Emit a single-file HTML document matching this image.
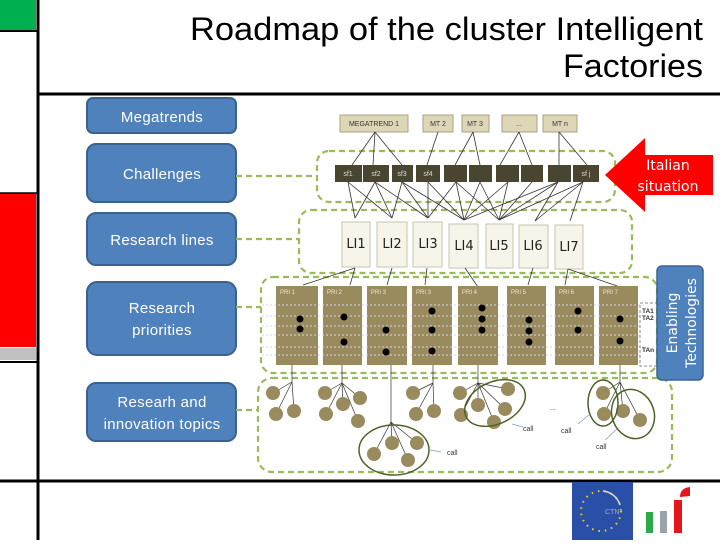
<!DOCTYPE html>
<html><head><meta charset="utf-8"><style>
body{margin:0;width:720px;height:540px;overflow:hidden;background:#fff;font-family:"Liberation Sans",sans-serif}
</style></head><body>
<svg width="720" height="540" xmlns="http://www.w3.org/2000/svg" font-family="Liberation Sans, DejaVu Sans, sans-serif">
<rect x="0" y="0" width="36" height="30" fill="#00b050"/>
<line x1="0" y1="31" x2="37" y2="31" stroke="#000" stroke-width="2"/>
<rect x="0" y="193" width="36" height="154" fill="#ff0000"/>
<line x1="0" y1="193" x2="37" y2="193" stroke="#000" stroke-width="1.5"/>
<rect x="0" y="348" width="36" height="12" fill="#c0c0c0"/>
<line x1="0" y1="362" x2="37" y2="362" stroke="#000" stroke-width="2"/>
<line x1="38" y1="0" x2="38" y2="540" stroke="#000" stroke-width="3"/>
<line x1="38" y1="94" x2="720" y2="94" stroke="#000" stroke-width="3"/>
<line x1="0" y1="481" x2="720" y2="481" stroke="#000" stroke-width="3"/>
<text x="190" y="40" font-size="32" textLength="513" lengthAdjust="spacingAndGlyphs">Roadmap of the cluster Intelligent</text>
<text x="563" y="77" font-size="32" textLength="140" lengthAdjust="spacingAndGlyphs">Factories</text>

<g fill="#4f81bd" stroke="#3a6291" stroke-width="2">
<rect x="87" y="98" width="149" height="35" rx="6"/>
<rect x="87" y="144" width="149" height="58" rx="9"/>
<rect x="87" y="213" width="149" height="52" rx="9"/>
<rect x="87" y="282" width="149" height="73" rx="10"/>
<rect x="87" y="383" width="149" height="58" rx="9"/>
</g>
<g fill="#fff" font-size="15" text-anchor="middle" font-family="Liberation Sans, sans-serif" letter-spacing="0.3">
<text x="162" y="122">Megatrends</text>
<text x="162" y="179">Challenges</text>
<text x="162" y="245">Research lines</text>
<text x="162" y="313">Research</text>
<text x="162" y="335">priorities</text>
<text x="162" y="407">Researh and</text>
<text x="162" y="429">innovation topics</text>
</g>

<g fill="none" stroke="#9bbb59" stroke-width="2.2" stroke-dasharray="6,4">
<rect x="317" y="151" width="298" height="51" rx="12"/>
<rect x="299" y="210" width="333" height="63" rx="12"/>
<rect x="261" y="277" width="396" height="96" rx="12"/>
<rect x="258" y="378" width="414" height="94" rx="14"/>
<line x1="236" y1="176" x2="317" y2="176"/>
<line x1="236" y1="239" x2="299" y2="239"/>
<line x1="236" y1="307" x2="261" y2="307"/>
<line x1="236" y1="410" x2="258" y2="410"/>
</g>

<g fill="#ddd7b8" stroke="#a9a385" stroke-width="1">
<rect x="340" y="115" width="68" height="17"/>
<rect x="423" y="115" width="30" height="17"/>
<rect x="462" y="115" width="27" height="17"/>
<rect x="502" y="115" width="35" height="17"/>
<rect x="543" y="115" width="34" height="17"/>
</g>
<g font-size="7" text-anchor="middle" fill="#333">
<text x="374" y="126">MEGATREND 1</text><text x="438" y="126">MT 2</text><text x="475" y="126">MT 3</text><text x="519" y="126">...</text><text x="560" y="126">MT n</text>
</g>
<g stroke="#333" stroke-width="0.8">
<line x1="375" y1="132" x2="352" y2="165"/><line x1="375" y1="132" x2="373" y2="165"/><line x1="375" y1="132" x2="402" y2="165"/>
<line x1="438" y1="132" x2="427" y2="165"/>
<line x1="473" y1="132" x2="455" y2="165"/><line x1="473" y1="132" x2="480" y2="165"/>
<line x1="519" y1="132" x2="500" y2="165"/><line x1="519" y1="132" x2="532" y2="165"/>
<line x1="559" y1="132" x2="559" y2="165"/><line x1="559" y1="132" x2="587" y2="165"/>
</g>
<g fill="#4a4530">
<rect x="335" y="165" width="27" height="17"/><rect x="363" y="165" width="26" height="17"/><rect x="392" y="165" width="21" height="17"/><rect x="416" y="165" width="24" height="17"/>
<rect x="444" y="165" width="23" height="17"/><rect x="469" y="165" width="23" height="17"/><rect x="496" y="165" width="23" height="17"/><rect x="521" y="165" width="22" height="17"/><rect x="548" y="165" width="23" height="17"/><rect x="573" y="165" width="26" height="17"/>
</g>
<g font-size="7" fill="#ddd" text-anchor="middle">
<text x="348" y="176">sf1</text><text x="376" y="176">sf2</text><text x="402" y="176">sf3</text><text x="428" y="176">sf4</text><text x="586" y="176">sf j</text>
</g>
<g stroke="#333" stroke-width="0.8">
<line x1="348" y1="182" x2="355" y2="218"/><line x1="348" y1="182" x2="392" y2="218"/>
<line x1="375" y1="182" x2="355" y2="218"/><line x1="375" y1="182" x2="392" y2="218"/><line x1="375" y1="182" x2="428" y2="218"/>
<line x1="402" y1="182" x2="392" y2="218"/><line x1="402" y1="182" x2="428" y2="218"/><line x1="402" y1="182" x2="464" y2="220"/>
<line x1="428" y1="182" x2="428" y2="218"/><line x1="428" y1="182" x2="464" y2="220"/>
<line x1="456" y1="182" x2="428" y2="218"/><line x1="456" y1="182" x2="464" y2="220"/><line x1="456" y1="182" x2="499" y2="220"/>
<line x1="480" y1="182" x2="464" y2="220"/><line x1="480" y1="182" x2="499" y2="220"/>
<line x1="508" y1="182" x2="464" y2="220"/><line x1="508" y1="182" x2="499" y2="220"/>
<line x1="532" y1="182" x2="499" y2="220"/>
<line x1="558" y1="182" x2="464" y2="220"/><line x1="558" y1="182" x2="499" y2="220"/><line x1="558" y1="182" x2="535" y2="221"/>
<line x1="583" y1="182" x2="499" y2="220"/><line x1="583" y1="182" x2="535" y2="221"/><line x1="583" y1="182" x2="570" y2="221"/>
</g>
<polygon points="605,175 645,138 645,155 713,155 713,195 645,195 645,212" fill="#ff0000"/>
<g font-size="14" fill="#fff" text-anchor="middle" font-family="DejaVu Sans, sans-serif">
<text x="668" y="170">Italian</text><text x="668" y="191">situation</text>
</g>
<g fill="#f7f5ea" stroke="#c9c5b0" stroke-width="1">
<rect x="342" y="222" width="28" height="45"/><rect x="377" y="222" width="30" height="45"/><rect x="413" y="222" width="29" height="45"/><rect x="449" y="224" width="29" height="44"/><rect x="486" y="224" width="27" height="44"/><rect x="519" y="225" width="29" height="43"/><rect x="555" y="225" width="28" height="44"/>
</g>
<g font-size="13" text-anchor="middle" fill="#222" font-family="DejaVu Sans, sans-serif">
<text x="356" y="248">LI1</text><text x="392" y="248">LI2</text><text x="428" y="248">LI3</text><text x="464" y="250">LI4</text><text x="499" y="250">LI5</text><text x="533" y="250">LI6</text><text x="569" y="251">LI7</text>
</g>
<g stroke="#333" stroke-width="0.8">
<line x1="355" y1="268" x2="303" y2="285"/><line x1="355" y1="268" x2="350" y2="285"/>
<line x1="392" y1="268" x2="387" y2="285"/><line x1="427" y1="268" x2="425" y2="285"/>
<line x1="465" y1="268" x2="478" y2="287"/><line x1="533" y1="268" x2="528" y2="285"/>
<line x1="568" y1="269" x2="565" y2="285"/><line x1="568" y1="269" x2="620" y2="287"/>
</g>
<g fill="#9a8b5f">
<rect x="276" y="286" width="42" height="79"/><rect x="323" y="286" width="39" height="79"/><rect x="367" y="286" width="40" height="79"/><rect x="412" y="286" width="40" height="79"/><rect x="458" y="286" width="40" height="79"/><rect x="507" y="286" width="39" height="79"/><rect x="555" y="286" width="39" height="79"/><rect x="599" y="286" width="39" height="79"/>
</g>
<g stroke="#d8d4e8" stroke-width="1" stroke-dasharray="2,2">
<line x1="262" y1="305" x2="645" y2="305"/><line x1="262" y1="316" x2="645" y2="316"/><line x1="262" y1="326" x2="640" y2="326"/><line x1="262" y1="335" x2="640" y2="335"/><line x1="262" y1="347" x2="645" y2="347"/><line x1="262" y1="355" x2="640" y2="355"/>
</g>
<g font-size="6" fill="#f0ead0">
<text x="280" y="294">PRI 1</text><text x="327" y="294">PRI 2</text><text x="371" y="294">PRI 3</text><text x="416" y="294">PRI 3</text><text x="462" y="294">PRI 4</text><text x="511" y="294">PRI 5</text><text x="559" y="294">PRI 6</text><text x="603" y="294">PRI 7</text>
</g>
<g fill="#000">
<circle cx="300" cy="319" r="3.5"/><circle cx="300" cy="329" r="3.5"/>
<circle cx="344" cy="317" r="3.5"/><circle cx="344" cy="342" r="3.5"/>
<circle cx="386" cy="330" r="3.5"/><circle cx="386" cy="352" r="3.5"/>
<circle cx="432" cy="311" r="3.5"/><circle cx="432" cy="330" r="3.5"/><circle cx="432" cy="351" r="3.5"/>
<circle cx="482" cy="308" r="3.5"/><circle cx="482" cy="319" r="3.5"/><circle cx="482" cy="330" r="3.5"/>
<circle cx="529" cy="320" r="3.5"/><circle cx="529" cy="331" r="3.5"/><circle cx="529" cy="342" r="3.5"/>
<circle cx="578" cy="311" r="3.5"/><circle cx="578" cy="330" r="3.5"/>
<circle cx="620" cy="319" r="3.5"/><circle cx="620" cy="341" r="3.5"/>
</g>
<rect x="640" y="303" width="22" height="63" fill="none" stroke="#888" stroke-dasharray="3,2"/>
<g font-size="6.5" font-weight="bold" fill="#333"><text x="642" y="313">TA1</text><text x="642" y="320">TA2</text><text x="642" y="352">TAn</text></g>
<rect x="657" y="266" width="46" height="114" rx="5" fill="#4f81bd" stroke="#3a6291" stroke-width="1.5"/>
<g font-size="14" fill="#fff" text-anchor="middle" font-family="DejaVu Sans, sans-serif">
<text transform="translate(677,323) rotate(-90)">Enabling</text>
<text transform="translate(696,323) rotate(-90)">Technologies</text>
</g>
<g stroke="#333" stroke-width="0.7">
<line x1="292" y1="365" x2="292" y2="382"/><line x1="292" y1="382" x2="273" y2="393"/><line x1="292" y1="382" x2="276" y2="414"/><line x1="292" y1="382" x2="294" y2="411"/>
<line x1="342" y1="365" x2="342" y2="383"/><line x1="342" y1="383" x2="325" y2="393"/><line x1="342" y1="383" x2="326" y2="414"/><line x1="342" y1="383" x2="343" y2="404"/><line x1="342" y1="383" x2="360" y2="398"/><line x1="342" y1="383" x2="358" y2="421"/>
<line x1="391" y1="365" x2="391" y2="422"/><line x1="391" y1="422" x2="374" y2="454"/><line x1="391" y1="422" x2="392" y2="443"/><line x1="391" y1="422" x2="417" y2="443"/><line x1="391" y1="422" x2="408" y2="460"/>
<line x1="433" y1="365" x2="433" y2="383"/><line x1="433" y1="383" x2="413" y2="393"/><line x1="433" y1="383" x2="416" y2="414"/><line x1="433" y1="383" x2="434" y2="411"/>
<line x1="478" y1="365" x2="478" y2="383"/><line x1="478" y1="383" x2="460" y2="393"/><line x1="478" y1="383" x2="461" y2="415"/><line x1="478" y1="383" x2="478" y2="405"/><line x1="478" y1="383" x2="508" y2="389"/><line x1="478" y1="383" x2="505" y2="409"/><line x1="478" y1="383" x2="494" y2="422"/>
<line x1="620" y1="365" x2="620" y2="382"/><line x1="620" y1="382" x2="603" y2="393"/><line x1="620" y1="382" x2="604" y2="414"/><line x1="620" y1="382" x2="623" y2="411"/><line x1="620" y1="382" x2="640" y2="420"/>
</g>
<g fill="#9a8b5f">
<circle cx="273" cy="393" r="7"/><circle cx="276" cy="414" r="7"/><circle cx="294" cy="411" r="7"/>
<circle cx="325" cy="393" r="7"/><circle cx="326" cy="414" r="7"/><circle cx="343" cy="404" r="7"/><circle cx="360" cy="398" r="7"/><circle cx="358" cy="421" r="7"/>
<circle cx="374" cy="454" r="7"/><circle cx="392" cy="443" r="7"/><circle cx="417" cy="443" r="7"/><circle cx="408" cy="460" r="7"/>
<circle cx="413" cy="393" r="7"/><circle cx="416" cy="414" r="7"/><circle cx="434" cy="411" r="7"/>
<circle cx="460" cy="393" r="7"/><circle cx="461" cy="415" r="7"/><circle cx="478" cy="405" r="7"/><circle cx="508" cy="389" r="7"/><circle cx="505" cy="409" r="7"/><circle cx="494" cy="422" r="7"/>
<circle cx="603" cy="393" r="7"/><circle cx="604" cy="414" r="7"/><circle cx="623" cy="411" r="7"/><circle cx="640" cy="420" r="7"/>
</g>
<g fill="none" stroke="#4f6228" stroke-width="1.5">
<ellipse cx="394" cy="450" rx="35" ry="25"/>
<ellipse cx="495" cy="403" rx="32" ry="21" transform="rotate(-25 495 403)"/>
<ellipse cx="603" cy="403" rx="15" ry="23"/>
<ellipse cx="633" cy="414" rx="21" ry="25" transform="rotate(-20 633 414)"/>
</g>
<g stroke="#7a9cc6" stroke-width="0.8">
<line x1="430" y1="450" x2="441" y2="452"/><line x1="512" y1="424" x2="523" y2="427"/><line x1="578" y1="424" x2="590" y2="414"/><line x1="605" y1="440" x2="617" y2="429"/>
</g>
<g font-size="7" fill="#333">
<text x="447" y="455">call</text><text x="523" y="431">call</text><text x="561" y="433">call</text><text x="596" y="449">call</text><text x="550" y="410">...</text>
</g>
<rect x="572" y="482" width="61" height="58" fill="#2a4fa8"/>
<circle cx="601" cy="511" r="20" fill="none" stroke="#f5d000" stroke-width="2" stroke-dasharray="1.5,5"/>
<path d="M603,491 A20,20 0 0,1 620,505" fill="none" stroke="#ddd" stroke-width="1.5"/>
<text x="605" y="514" font-size="7" fill="#aab">CTN</text>
<rect x="646" y="512" width="7" height="21" fill="#2ea84a"/>
<rect x="660" y="511" width="7" height="22" fill="#9aa3ab"/>
<rect x="674" y="500" width="8" height="33" fill="#e3161b"/>
<path d="M680,497 Q680,488 690,487 L690,496 Z" fill="#e3161b"/>
</svg>
</body></html>
